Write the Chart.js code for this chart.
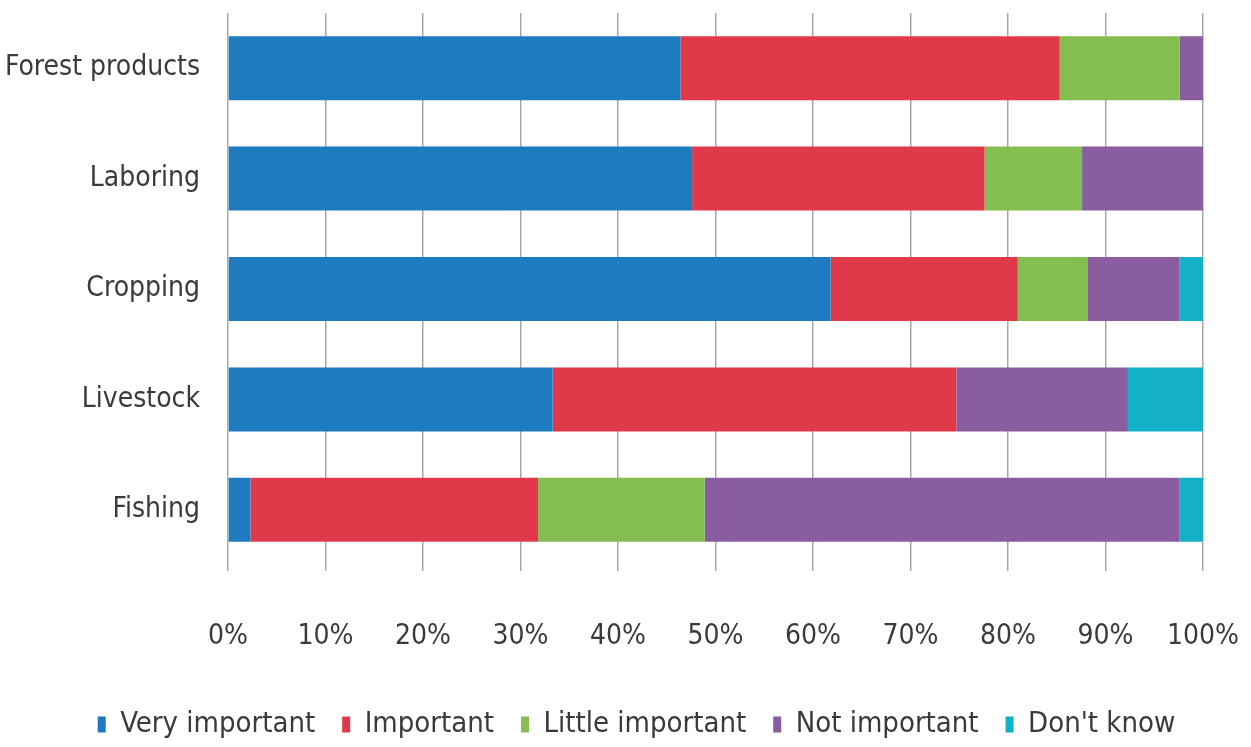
<!DOCTYPE html>
<html>
<head>
<meta charset="utf-8">
<script src="https://cdn.jsdelivr.net/npm/chart.js@4/dist/chart.umd.min.js"></script>
<style>
  html, body { margin: 0; padding: 0; background: #fff; }
  #wrap { width: 1251px; height: 747px; }
</style>
</head>
<body>
<div id="wrap"><canvas id="bar_chart" width="1251" height="747"></canvas></div>
<script>
var categories = ["Forest products", "Laboring", "Cropping", "Livestock", "Fishing"];
var seriesNames = ["Very important", "Important", "Little important", "Not important", "Don't know"];
var veryImportant = [46.4, 47.6, 61.8, 33.3, 2.3];
var important = [38.9, 30.0, 19.2, 41.4, 29.5];
var littleImportant = [12.3, 10.0, 7.2, 0, 17.1];
var notImportant = [2.4, 12.4, 9.4, 17.6, 48.7];
var dontKnow = [0, 0, 2.4, 7.7, 2.4];
var xTicks = [0, 10, 20, 30, 40, 50, 60, 70, 80, 90, 100];

var colors = ['#1f7bbf', '#e03a4a', '#84bd50', '#8a5ca0', '#13b0c8'];
var values = [veryImportant, important, littleImportant, notImportant, dontKnow];
var fontFamily = "'DejaVu Sans Condensed', sans-serif";
var textColor = '#3a3a3a';

var datasets = seriesNames.map(function (name, i) {
    return {
        label: name,
        data: values[i],
        backgroundColor: colors[i],
        borderWidth: 0,
        categoryPercentage: 1.0,
        barPercentage: 0.58
    };
});

// nudge the legend a little right, like the original
var legendShift = {
    id: 'legendShift',
    afterLayout: function (chart) {
        chart.legend.left += 11;
        chart.legend.right += 11;
    }
};

new Chart(document.getElementById("bar_chart").getContext("2d"), {
    type: 'bar',
    data: {
        labels: categories,
        datasets: datasets
    },
    plugins: [legendShift],
    options: {
        indexAxis: 'y',
        responsive: false,
        animation: false,
        layout: {
            padding: { top: 13, right: 0, bottom: -2, left: 0 }
        },
        scales: {
            x: {
                stacked: true,
                min: 0,
                max: 100,
                afterBuildTicks: function (scale) {
                    scale.ticks = xTicks.map(function (v) { return { value: v }; });
                },
                afterFit: function (scale) {
                    scale.height = 118;
                    scale.paddingLeft = 0;
                    scale.paddingRight = 48;
                },
                grid: {
                    color: 'rgba(0,0,0,0.35)',
                    lineWidth: 1.5,
                    tickLength: 6
                },
                border: { display: false },
                ticks: {
                    padding: 49,
                    color: textColor,
                    font: { family: fontFamily, size: 28 },
                    callback: function (v) { return v + '%'; }
                }
            },
            y: {
                stacked: true,
                afterFit: function (scale) {
                    scale.width = 228;
                    scale.paddingTop = 0;
                    scale.paddingBottom = 0;
                },
                grid: { display: false, drawTicks: false },
                border: { display: false },
                ticks: {
                    padding: 28,
                    color: textColor,
                    font: { family: fontFamily, size: 28 }
                }
            }
        },
        plugins: {
            legend: {
                position: 'bottom',
                labels: {
                    boxWidth: 8,
                    boxHeight: 16,
                    padding: 27,
                    color: textColor,
                    font: { family: fontFamily, size: 29 }
                }
            },
            tooltip: { enabled: false }
        }
    }
});
</script>
</body>
</html>
